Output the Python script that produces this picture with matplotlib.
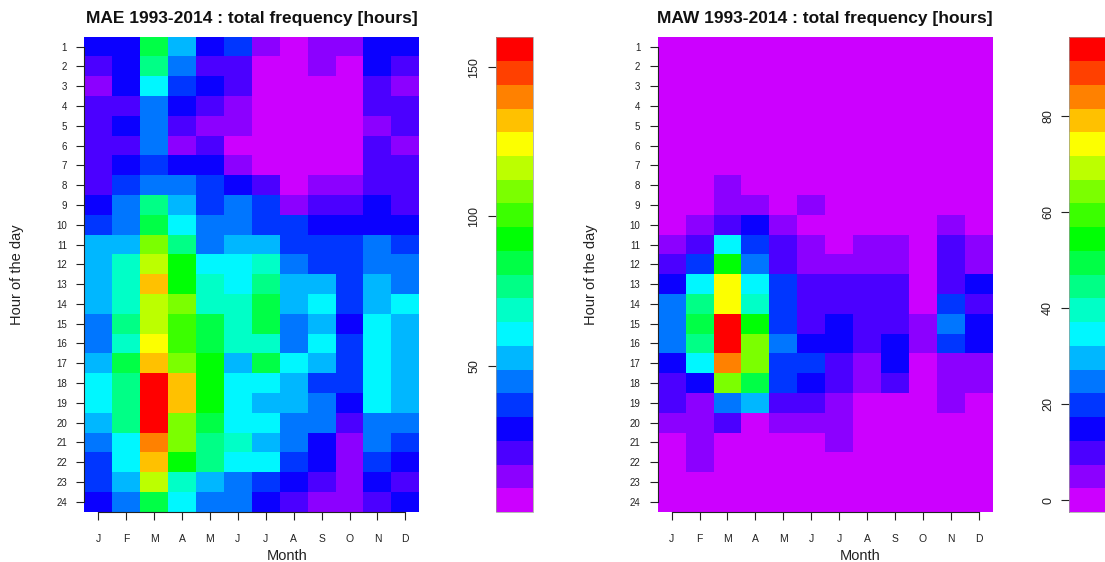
import colorsys
import numpy as np
import matplotlib
matplotlib.use("Agg")
import matplotlib.pyplot as plt
from matplotlib.colors import ListedColormap, Normalize
from matplotlib.cm import ScalarMappable
from matplotlib.ticker import MultipleLocator

plt.rcParams["font.family"] = ["Liberation Sans", "DejaVu Sans"]

months = ["J", "F", "M", "A", "M", "J", "J", "A", "S", "O", "N", "D"]
hours = list(range(1, 25))

# total hours per (hour of day, month), MAE 1993-2014
mae_hours = [
    [30, 28, 85, 52, 29, 38, 14, 6, 12, 13, 29, 31],
    [22, 29, 76, 45, 20, 21, 7, 5, 13, 6, 28, 21],
    [12, 30, 60, 36, 29, 20, 6, 5, 5, 6, 22, 14],
    [21, 20, 45, 29, 22, 12, 5, 5, 5, 5, 21, 20],
    [20, 29, 46, 21, 13, 14, 5, 5, 5, 6, 13, 21],
    [21, 22, 44, 13, 21, 7, 5, 5, 5, 6, 20, 12],
    [22, 28, 37, 30, 29, 12, 6, 5, 5, 6, 21, 22],
    [20, 37, 45, 44, 36, 29, 22, 6, 13, 14, 21, 20],
    [29, 46, 76, 54, 38, 44, 36, 13, 21, 22, 30, 21],
    [36, 45, 85, 61, 44, 46, 37, 38, 29, 28, 30, 29],
    [53, 52, 108, 77, 45, 54, 52, 37, 36, 38, 46, 37],
    [52, 69, 117, 92, 61, 60, 68, 45, 37, 36, 44, 46],
    [53, 68, 132, 93, 69, 61, 76, 52, 54, 37, 53, 45],
    [54, 70, 116, 108, 68, 69, 84, 53, 61, 36, 52, 60],
    [45, 77, 115, 100, 85, 68, 83, 44, 53, 29, 61, 53],
    [46, 69, 124, 101, 84, 69, 68, 45, 60, 37, 62, 52],
    [52, 84, 133, 109, 92, 53, 85, 60, 53, 38, 61, 54],
    [61, 76, 156, 132, 93, 62, 60, 52, 37, 36, 60, 53],
    [60, 77, 155, 131, 92, 61, 53, 53, 45, 29, 61, 52],
    [53, 76, 154, 108, 84, 60, 61, 45, 44, 21, 45, 46],
    [44, 61, 140, 107, 77, 69, 52, 45, 28, 13, 46, 37],
    [37, 60, 131, 92, 76, 61, 60, 36, 29, 12, 37, 30],
    [36, 53, 116, 68, 53, 45, 38, 29, 22, 13, 29, 21],
    [30, 45, 84, 60, 44, 46, 29, 21, 14, 12, 22, 29],
]

# total hours per (hour of day, month), MAW 1993-2014
maw_hours = [
    [0, 0, 1, 0, 0, 0, 0, 0, 0, 0, 0, 0],
    [0, 0, 0, 0, 0, 0, 0, 0, 0, 0, 0, 0],
    [0, 0, 1, 0, 0, 0, 0, 0, 0, 0, 0, 0],
    [0, 0, 0, 0, 0, 0, 0, 0, 0, 0, 0, 0],
    [0, 0, 0, 1, 0, 0, 0, 0, 0, 0, 0, 0],
    [0, 0, 1, 0, 0, 0, 0, 0, 0, 0, 0, 0],
    [0, 0, 1, 1, 0, 0, 0, 0, 0, 0, 0, 0],
    [0, 0, 5, 1, 0, 0, 0, 0, 0, 0, 0, 0],
    [0, 1, 4, 5, 2, 6, 1, 0, 0, 0, 0, 0],
    [1, 5, 10, 15, 4, 1, 0, 1, 0, 0, 4, 0],
    [5, 11, 35, 20, 10, 5, 2, 4, 5, 0, 11, 6],
    [9, 20, 54, 25, 11, 5, 4, 6, 5, 1, 10, 5],
    [15, 35, 74, 34, 20, 10, 9, 11, 10, 0, 11, 15],
    [25, 44, 75, 40, 21, 10, 11, 10, 9, 0, 19, 10],
    [24, 49, 94, 54, 20, 11, 16, 10, 11, 5, 26, 15],
    [26, 45, 93, 64, 24, 15, 14, 10, 16, 4, 20, 14],
    [14, 35, 84, 64, 21, 20, 11, 5, 15, 0, 5, 6],
    [10, 15, 64, 50, 19, 14, 10, 6, 11, 1, 4, 5],
    [11, 5, 25, 30, 10, 9, 6, 1, 0, 0, 5, 1],
    [5, 6, 10, 1, 5, 4, 5, 0, 0, 0, 0, 1],
    [0, 4, 2, 0, 1, 0, 5, 0, 0, 0, 0, 0],
    [1, 5, 0, 0, 0, 0, 0, 0, 0, 0, 0, 0],
    [0, 0, 0, 0, 0, 0, 0, 0, 0, 0, 0, 0],
    [0, 0, 0, 0, 0, 0, 0, 0, 0, 0, 0, 0],
]

titles = ["MAE 1993-2014 : total frequency [hours]",
          "MAW 1993-2014 : total frequency [hours]"]
cbar_steps = [50, 20]

# 20-colour rainbow running from magenta (low) to red (high)
n_col = 20
palette = [colorsys.hsv_to_rgb(0.8 * (n_col - 1 - i) / (n_col - 1), 1, 1)
           for i in range(n_col)]
cmap = ListedColormap(palette)

W, H = 1105, 562
fig = plt.figure(figsize=(W / 100, H / 100), dpi=100)


def fx(px):
    return px / W


def fy(px):
    return 1 - px / H


panels = [
    dict(data=mae_hours, ax_left=84.3, cb_left=495.7),
    dict(data=maw_hours, ax_left=657.7, cb_left=1069.3),
]
ax_w, top_px, bot_px, cb_w = 335.0, 36.7, 511.7, 37.0
ink = "#222222"

for k, p in enumerate(panels):
    z = np.array(p["data"], dtype=float)
    zmin, zmax = z.min(), z.max()
    half = (zmax - zmin) / (n_col - 1) / 2
    norm = Normalize(vmin=zmin - half, vmax=zmax + half)

    ax = fig.add_axes([fx(p["ax_left"]), fy(bot_px), ax_w / W, (bot_px - top_px) / H])
    xe = np.arange(0.5, len(months) + 1, 1.0)
    ye = np.arange(0.5, len(hours) + 1, 1.0)
    ax.pcolormesh(xe, ye, z, cmap=cmap, norm=norm, antialiased=False)
    ax.set_xlim(0.5, len(months) + 0.5)
    ax.set_ylim(len(hours) + 0.5, 0.5)

    ax.set_xticks(range(1, len(months) + 1))
    ax.set_xticklabels(months)
    ax.set_yticks(hours)
    ax.set_yticklabels([str(h) for h in hours])
    ax.tick_params(axis="x", length=6, width=0.8, pad=10, labelsize=7.5,
                   colors=ink)
    ax.tick_params(axis="y", length=6, width=0.8, pad=6.5, labelsize=7,
                   colors=ink)
    for side in ("top", "right"):
        ax.spines[side].set_visible(False)
    ax.spines["left"].set_bounds(1, len(hours))
    ax.spines["bottom"].set_bounds(1, len(months))
    for side in ("left", "bottom"):
        ax.spines[side].set_linewidth(0.8)
        ax.spines[side].set_color(ink)

    cx = p["ax_left"] + ax_w / 2
    fig.text(fx(cx), fy(23.3), titles[k], ha="center", va="baseline",
             fontsize=12.5, fontweight="bold", color="#111111")
    fig.text(fx(cx + 35.3), fy(560), "Month", ha="center", va="baseline",
             fontsize=10.5, color=ink)
    fig.text(fx(p["ax_left"] - 67), fy((top_px + bot_px) / 2), "Hour of the day",
             ha="center", va="center", rotation=90, fontsize=10.5, color=ink)

    cax = fig.add_axes([fx(p["cb_left"]), fy(512), cb_w / W, (512 - 37.3) / H])
    cb = fig.colorbar(ScalarMappable(norm=norm, cmap=cmap), cax=cax)
    cb.outline.set_edgecolor("#999999")
    cb.outline.set_linewidth(0.5)
    cax.yaxis.set_ticks_position("left")
    cax.yaxis.set_major_locator(MultipleLocator(cbar_steps[k]))
    cax.tick_params(axis="y", length=6, width=0.8, pad=5, labelsize=9,
                    colors=ink, labelrotation=90)
    for lab in cax.get_yticklabels():
        lab.set_va("center")

fig.savefig("out.png", dpi=100)
